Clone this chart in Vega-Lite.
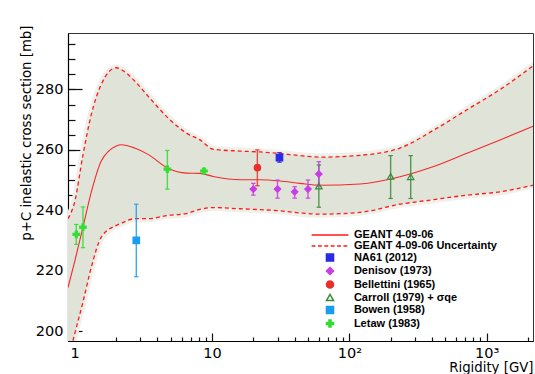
{
  "$schema": "https://vega.github.io/schema/vega-lite/v6.json",
  "width": 465,
  "height": 308,
  "autosize": {"type": "none"},
  "padding": {"left": 68, "top": 33, "right": 2, "bottom": 33},
  "background": "white",
  "config": {
    "view": {"stroke": "#333", "strokeWidth": 1},
    "axis": {
      "grid": false,
      "zindex": 1,
      "domainColor": "#000",
      "domainWidth": 1.2,
      "tickColor": "#111",
      "tickWidth": 1.2,
      "labelFont": "DejaVu Sans",
      "labelFontSize": 14.5,
      "labelColor": "#000",
      "titleFont": "DejaVu Sans",
      "titleFontSize": 13.3,
      "titleFontWeight": "normal",
      "titleColor": "#000"
    },
    "legend": {
      "title": null, "symbolSize": 50, "symbolStrokeWidth": 1.5, "labelOffset": 18.4, "rowPadding": -1.5,
      "labelFont": "Liberation Sans", "labelFontSize": 11, "labelFontWeight": "bold", "labelColor": "#000", "padding": 0, "labelLimit": 300
    }
  },
  "datasets": {
    "curve": [
      {"x": 0.894, "c": 214.4, "u": 237.2, "l": 190.0},
      {"x": 1.0, "c": 223.0, "u": 242.8, "l": 199.0},
      {"x": 1.149, "c": 234.4, "u": 258.3, "l": 209.6},
      {"x": 1.321, "c": 246.0, "u": 271.7, "l": 221.1},
      {"x": 1.562, "c": 256.3, "u": 281.7, "l": 231.1},
      {"x": 2.01, "c": 261.3, "u": 287.2, "l": 235.0},
      {"x": 2.18, "c": 261.7, "u": 286.6, "l": 235.7},
      {"x": 2.735, "c": 260.6, "u": 282.8, "l": 237.2},
      {"x": 3.42, "c": 258.5, "u": 277.8, "l": 237.2},
      {"x": 4.78, "c": 253.9, "u": 270.6, "l": 238.3},
      {"x": 6.5, "c": 252.3, "u": 265.6, "l": 238.9},
      {"x": 8.18, "c": 252.2, "u": 263.3, "l": 240.3},
      {"x": 10.2, "c": 251.2, "u": 260.2, "l": 240.9},
      {"x": 16.0, "c": 250.1, "u": 259.6, "l": 240.5},
      {"x": 22.4, "c": 250.1, "u": 259.3, "l": 240.2},
      {"x": 31.3, "c": 249.7, "u": 258.8, "l": 239.8},
      {"x": 43.8, "c": 248.9, "u": 258.1, "l": 239.1},
      {"x": 61.2, "c": 248.3, "u": 257.6, "l": 238.7},
      {"x": 119.6, "c": 248.7, "u": 258.2, "l": 239.3},
      {"x": 234, "c": 251.1, "u": 260.6, "l": 242.0},
      {"x": 407, "c": 254.4, "u": 266.4, "l": 243.5},
      {"x": 720, "c": 258.9, "u": 273.3, "l": 245.0},
      {"x": 1253, "c": 263.3, "u": 280.0, "l": 246.1},
      {"x": 2177, "c": 267.8, "u": 287.8, "l": 248.3}
    ],
    "points": [
      {"series": "Carroll (1979) + σqe", "x": 60, "y": 248.0, "lo": 241.0, "hi": 255.0},
      {"series": "Carroll (1979) + σqe", "x": 200, "y": 251.2, "lo": 243.9, "hi": 258.1},
      {"series": "Carroll (1979) + σqe", "x": 280, "y": 251.1, "lo": 243.9, "hi": 258.1},
      {"series": "Letaw (1983)", "x": 1.027, "y": 232.0, "lo": 228.7, "hi": 235.3},
      {"series": "Letaw (1983)", "x": 1.149, "y": 234.4, "lo": 227.6, "hi": 241.1},
      {"series": "Letaw (1983)", "x": 4.73, "y": 253.6, "lo": 247.0, "hi": 259.8},
      {"series": "Letaw (1983)", "x": 8.74, "y": 253.0, "lo": 252.3, "hi": 253.7},
      {"series": "Bowen (1958)", "x": 2.81, "y": 230.0, "lo": 218.0, "hi": 242.0},
      {"series": "Bellettini (1965)", "x": 21.4, "y": 254.1, "lo": 248.1, "hi": 260.0},
      {"series": "NA61 (2012)", "x": 31, "y": 257.4, "lo": 255.9, "hi": 259.1},
      {"series": "Denisov (1973)", "x": 20, "y": 247.0, "lo": 245.0, "hi": 248.9},
      {"series": "Denisov (1973)", "x": 30, "y": 247.0, "lo": 244.0, "hi": 250.0},
      {"series": "Denisov (1973)", "x": 40, "y": 246.1, "lo": 244.0, "hi": 247.8},
      {"series": "Denisov (1973)", "x": 50, "y": 247.0, "lo": 244.0, "hi": 250.0},
      {"series": "Denisov (1973)", "x": 60, "y": 252.0, "lo": 248.0, "hi": 256.1}
    ]
  },
  "layer": [
    {
      "data": {"name": "curve"},
      "mark": {"type": "area", "fill": "#e0e3d8", "stroke": "#eef0e9", "strokeWidth": 7, "interpolate": "monotone", "clip": true},
      "encoding": {
        "x": {
          "field": "x", "type": "quantitative",
          "scale": {"type": "log", "domain": [0.894, 2177], "nice": false, "zero": false},
          "axis": {"orient": "bottom", "values": [2,3,4,5,6,7,8,9,20,30,40,50,60,70,80,90,200,300,400,500,600,700,800,900,2000], "tickSize": -4, "labels": false, "domain": false, "title": null}
        },
        "y": {
          "field": "u", "type": "quantitative",
          "scale": {"domain": [196.7, 298.7], "nice": false, "zero": false},
          "axis": {"orient": "left", "values": [200,205,210,215,220,225,230,235,240,245,250,255,260,265,270,275,280,285,290,295], "tickSize": -7, "labels": false, "domain": false, "title": null}
        },
        "y2": {"field": "l"}
      }
    },
    {
      "layer": [
        {
          "data": {"name": "curve"},
          "mark": {"type": "area", "fill": "#e0e3d8", "interpolate": "monotone", "clip": true},
          "encoding": {
            "x": {
              "field": "x", "type": "quantitative",
              "axis": {
                "orient": "bottom",
                "values": [1, 10, 100, 1000],
                "tickSize": -8,
                "labelPadding": 13,
                "labelFlush": false,
                "labelOverlap": false,
                "labelExpr": "datum.value == 100 ? '10²' : datum.value == 1000 ? '10³' : datum.value == 10 ? '10' : '1'",
                "title": "Rigidity [GV]",
                "titleX": 465,
                "titleY": 30.5,
                "titleAlign": "right",
                "titleBaseline": "alphabetic"
              }
            },
            "y": {
              "field": "u", "type": "quantitative",
              "axis": {
                "orient": "left",
                "values": [200, 220, 240, 260, 280],
                "tickSize": -14,
                "labelPadding": 19,
                "title": "p+C inelastic cross section [mb]",
                "titleX": -41.5,
                "titleY": -8,
                "titleAngle": -90,
                "titleAlign": "right",
                "titleBaseline": "middle"
              }
            },
            "y2": {"field": "l"}
          }
        },
        {
          "data": {"name": "curve"},
          "mark": {"type": "line", "color": "#ff1a1a", "strokeWidth": 1.3, "strokeDash": [4, 3], "interpolate": "monotone", "clip": true},
          "encoding": {
            "x": {"field": "x", "type": "quantitative"},
            "y": {"field": "u", "type": "quantitative"}
          }
        },
        {
          "data": {"name": "curve"},
          "mark": {"type": "line", "color": "#ff1a1a", "strokeWidth": 1.3, "strokeDash": [4, 3], "interpolate": "monotone", "clip": true},
          "encoding": {
            "x": {"field": "x", "type": "quantitative"},
            "y": {"field": "l", "type": "quantitative"}
          }
        },
        {
          "data": {"name": "curve"},
          "mark": {"type": "line", "color": "#f22a2a", "strokeWidth": 1.1, "interpolate": "monotone", "clip": true},
          "encoding": {
            "x": {"field": "x", "type": "quantitative"},
            "y": {"field": "c", "type": "quantitative"}
          }
        },
        {
          "data": {"name": "points"},
          "mark": {"type": "point", "filled": true, "size": 0, "opacity": 0},
          "encoding": {
            "x": {"field": "x", "type": "quantitative"},
            "y": {"field": "y", "type": "quantitative"},
            "shape": {
              "field": "series", "type": "nominal",
              "scale": {
                "domain": ["GEANT 4-09-06", "GEANT 4-09-06 Uncertainty", "NA61 (2012)", "Denisov (1973)", "Bellettini (1965)", "Carroll (1979) + σqe", "Bowen (1958)", "Letaw (1983)"],
                "range": ["M-5.2,0L5.2,0", "M-5.2,0H-4.1M-3.4,0H-2.3M-1.6,0H-0.5M0.2,0H1.3M2,0H3.1M3.8,0H4.9", "square", "diamond", "circle", "triangle-up", "square", "M-1,-0.3H-0.3V-1H0.3V-0.3H1V0.3H0.3V1H-0.3V0.3H-1Z"]
              },
              "legend": {"orient": "none", "legendX": 256.5, "legendY": 196.5, "symbolOpacity": 1}
            },
            "fill": {
              "field": "series", "type": "nominal",
              "scale": {
                "domain": ["GEANT 4-09-06", "GEANT 4-09-06 Uncertainty", "NA61 (2012)", "Denisov (1973)", "Bellettini (1965)", "Carroll (1979) + σqe", "Bowen (1958)", "Letaw (1983)"],
                "range": ["transparent", "transparent", "#2a2ae6", "#c93ce6", "#e8302a", "transparent", "#1a9cf0", "#33dd33"]
              },
              "legend": {"orient": "none", "legendX": 256.5, "legendY": 196.5, "symbolOpacity": 1}
            },
            "stroke": {
              "field": "series", "type": "nominal",
              "scale": {
                "domain": ["GEANT 4-09-06", "GEANT 4-09-06 Uncertainty", "NA61 (2012)", "Denisov (1973)", "Bellettini (1965)", "Carroll (1979) + σqe", "Bowen (1958)", "Letaw (1983)"],
                "range": ["#ff1a1a", "#ff1a1a", "#2a2ae6", "#c93ce6", "#e8302a", "#3a8a3a", "#1a9cf0", "#33dd33"]
              },
              "legend": {"orient": "none", "legendX": 256.5, "legendY": 196.5, "symbolOpacity": 1}
            }
          }
        },
        {
          "data": {"name": "points"},
          "mark": {"type": "rule", "strokeWidth": 1.4, "opacity": 0.85},
          "encoding": {
            "x": {"field": "x", "type": "quantitative"},
            "y": {"field": "lo", "type": "quantitative"},
            "y2": {"field": "hi"},
            "stroke": {"field": "series", "type": "nominal"}
          }
        },
        {
          "data": {"name": "points"},
          "mark": {"type": "point", "shape": "M-1,0L1,0", "size": 20, "strokeWidth": 1.2, "filled": false, "opacity": 0.9},
          "encoding": {
            "x": {"field": "x", "type": "quantitative"},
            "y": {"field": "lo", "type": "quantitative"},
            "stroke": {"field": "series", "type": "nominal"}
          }
        },
        {
          "data": {"name": "points"},
          "mark": {"type": "point", "shape": "M-1,0L1,0", "size": 20, "strokeWidth": 1.2, "filled": false, "opacity": 0.9},
          "encoding": {
            "x": {"field": "x", "type": "quantitative"},
            "y": {"field": "hi", "type": "quantitative"},
            "stroke": {"field": "series", "type": "nominal"}
          }
        },
        {
          "data": {"name": "points"},
          "mark": {"type": "point", "filled": true, "size": 42, "strokeWidth": 1.2, "opacity": 1},
          "encoding": {
            "x": {"field": "x", "type": "quantitative"},
            "y": {"field": "y", "type": "quantitative"},
            "shape": {"field": "series", "type": "nominal"},
            "fill": {"field": "series", "type": "nominal"},
            "stroke": {"field": "series", "type": "nominal"}
          }
        }
      ]
    }
  ],
  "resolve": {"axis": {"x": "independent", "y": "independent"}}
}
